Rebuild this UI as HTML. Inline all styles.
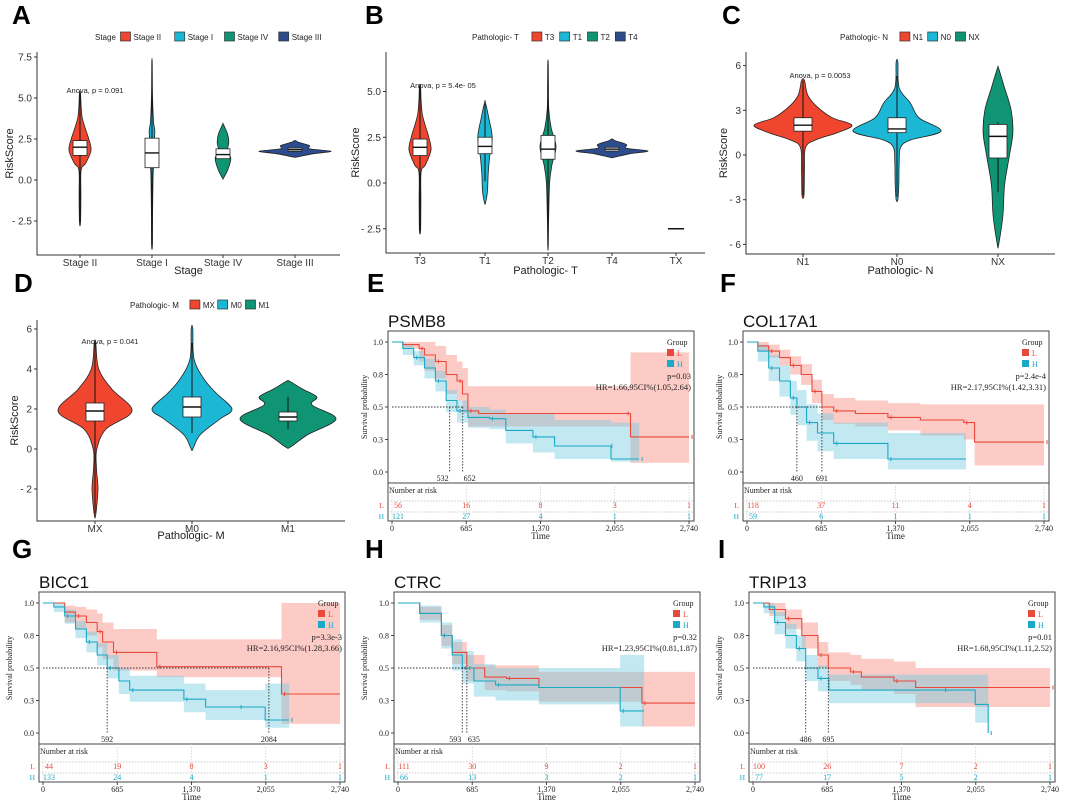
<!DOCTYPE html>
<html><head><meta charset="utf-8"><style>
html,body{margin:0;padding:0;background:#fff;}
svg{display:block;font-family:"Liberation Sans",sans-serif;}
.serif{font-family:"Liberation Serif",serif;}
</style></head>
<body>
<svg id="fig" width="1065" height="807" viewBox="0 0 1065 807" xmlns="http://www.w3.org/2000/svg"></svg>
<script>
// ---------- Violin data ----------
const aCats=["Stage II","Stage I","Stage IV","Stage III"];
const aYs=[[-2.6,-1,0.6,1,1.8,2.5,3.2,3.8,4.5,5.3],[-4,-2,0,1,2,3,3.5,4.5,5.5,7.2],[0.1,0.6,1.3,1.8,2.3,2.8,3.4],[1.4,1.6,1.75,1.9,2.1,2.3,2.4]];
const aWs=[[.05,.08,.1,.5,1,.8,.45,.2,.1,.05],[.05,.08,.12,.2,.25,.35,.2,.1,.05,.03],[.02,.35,.6,.35,.45,.35,.02],[.05,.5,1,.4,.4,.1,.02]];
const aBox=[[1.5,2.0,2.4,-2.6,5.3],[0.75,1.65,2.55,-4,7.2],[1.3,1.55,1.9,1.3,1.9],[1.75,1.85,1.95,1.75,1.95]];
const bCats=["T3","T1","T2","T4","TX"];
const bYs=[[-2.6,-1,0.6,1,1.8,2.5,3.2,3.8,4.5,5.3],[-1.1,-0.5,0.5,1.5,2.5,3.5,4.4],[-3.5,-2,0,1,2,3,4,5.5,6.6],[1.4,1.6,1.75,1.9,2.1,2.3,2.4],[]];
const bWs=[[.05,.08,.1,.5,1,.8,.45,.2,.1,.05],[.05,.3,.4,.6,.9,.5,.05],[.03,.08,.2,.5,1,.4,.1,.05,.02],[.05,.5,1,.4,.4,.1,.02],[]];
const bBox=[[1.5,1.95,2.4,-2.6,5.3],[1.6,2.0,2.5,0.1,4.3],[1.3,1.85,2.6,-3.5,6.6],[1.75,1.85,1.95,1.75,1.95],[-2.5,-2.5,-2.5,-2.5,-2.5]];
const cCats=["N1","N0","NX"];
const cYs=[[-2.7,-1,0.5,1,1.5,2,2.5,3.2,4,5],[-3,-2,-0.5,0.5,1,1.6,2.5,3.5,4.5,6.2],[-6,-4,-2,0,1.5,3,4.5,5.8]];
const cWs=[[.02,.03,.05,.25,.7,1,.6,.3,.1,.03],[.02,.04,.05,.08,.3,1,.5,.3,.05,.02],[.02,.15,.2,.35,.45,.4,.2,.02]];
const cBox=[[1.6,2.0,2.5,-2.7,5],[1.5,1.75,2.5,-2.8,5.3],[-0.2,1.25,2.05,-2.5,2.2]];
const dCats=["MX","M0","M1"];
const dYs=[[-3.3,-2,-1,0,1,1.9,3,4,5.3],[0,0.7,1.5,2,2.8,3.5,4.5,6],[0.1,0.7,1.5,2.2,2.6,3,3.4]];
const dWs=[[.02,.08,.04,.05,.3,1,.45,.1,.02],[.02,.2,.7,1,.6,.3,.05,.02],[.05,.4,1,.5,.6,.3,.02]];
const dBox=[[1.4,1.9,2.3,-3.2,5.3],[1.6,2.1,2.6,0.8,5.3],[1.4,1.6,1.85,1.0,2.6]];
// ---------- KM data ----------
const kmTicks=[0,685,1370,2055,2740];
const kmTickLabels=["0","685","1,370","2,055","2,740"];
const eLt=[0,100,250,300,400,500,600,650,700,800,2150,2200,2740], eLs=[1,.98,.95,.9,.85,.75,.7,.6,.47,.45,.45,.27,.27], eLhi=[1,1,1,1,.97,.9,.85,.8,.66,.66,.66,.92,.92], eLlo=[1,.95,.85,.78,.72,.6,.55,.45,.35,.35,.35,.07,.07];
const eHt=[0,100,200,300,400,500,600,700,900,1050,1300,1500,2000,2020,2280], eHs=[1,.95,.88,.8,.7,.55,.47,.42,.41,.32,.27,.2,.2,.1,.1], eHhi=[1,.98,.93,.87,.78,.63,.55,.5,.48,.45,.45,.4,.4,.38,.38], eHlo=[1,.9,.82,.72,.62,.46,.38,.34,.33,.22,.15,.1,.1,.08,.08];
const eRiskL=[56,16,8,3,1], eRiskH=[121,27,4,1,1], eMed=[532,652];
const fLt=[0,100,200,300,400,500,600,691,800,1000,1300,1600,2000,2100,2740], fLs=[1,.97,.93,.88,.82,.75,.62,.5,.47,.45,.42,.4,.38,.23,.23], fLhi=[1,1,.98,.94,.89,.83,.71,.6,.57,.55,.53,.52,.52,.52,.52], fLlo=[1,.93,.88,.82,.75,.67,.53,.4,.37,.35,.32,.28,.25,.05,.05];
const fHt=[0,100,200,300,400,460,550,650,800,1100,1300,2020], fHs=[1,.93,.8,.7,.57,.5,.38,.3,.22,.22,.1,.1], fHhi=[1,.98,.9,.82,.7,.63,.52,.45,.38,.38,.3,.3], fHlo=[1,.85,.7,.58,.44,.36,.24,.16,.1,.1,.02,.02];
const fRiskL=[118,37,11,4,1], fRiskH=[59,6,1,1,1], fMed=[460,691];
const gLt=[0,200,300,400,500,550,650,900,1050,2084,2200,2740], gLs=[1,.93,.9,.85,.78,.7,.62,.62,.51,.51,.3,.3], gLhi=[1,.98,.97,.95,.92,.85,.8,.8,.72,.72,1,1], gLlo=[1,.85,.8,.75,.66,.57,.48,.48,.43,.43,.07,.07];
const gHt=[0,100,200,300,400,500,592,700,800,1250,1300,1500,1800,2050,2270], gHs=[1,.97,.9,.8,.7,.6,.5,.4,.33,.33,.26,.2,.2,.1,.1], gHhi=[1,1,.95,.86,.78,.69,.6,.5,.44,.44,.38,.33,.33,.38,.38], gHlo=[1,.93,.84,.73,.62,.52,.42,.3,.24,.24,.16,.1,.1,.04,.04];
const gRiskL=[44,19,8,3,1], gRiskH=[133,24,4,1,1], gMed=[592,2084];
const hLt=[0,200,400,500,635,800,1000,1300,2250,2740], hLs=[1,.92,.75,.62,.5,.43,.42,.35,.23,.23], hLhi=[1,.97,.83,.7,.6,.52,.52,.47,.47,.47], hLlo=[1,.87,.67,.53,.4,.33,.32,.24,.05,.05];
const hHt=[0,200,400,500,593,700,900,1300,2050,2270], hHs=[1,.92,.75,.6,.5,.4,.37,.35,.17,.17], hHhi=[1,.98,.85,.72,.63,.53,.5,.5,.6,.6], hHlo=[1,.85,.65,.48,.38,.28,.25,.22,.05,.05];
const hRiskL=[111,30,9,2,1], hRiskH=[66,13,3,2,1], hMed=[593,635];
const iLt=[0,150,300,450,600,695,900,1000,1300,1500,2740], iLs=[1,.95,.88,.75,.6,.5,.47,.43,.4,.35,.35], iLhi=[1,1,.95,.85,.7,.62,.6,.57,.55,.5,.5], iLlo=[1,.9,.8,.65,.5,.4,.37,.33,.3,.2,.2];
const iHt=[0,100,200,300,400,486,600,700,1750,2050,2170], iHs=[1,.97,.85,.75,.65,.5,.42,.33,.33,.22,0], iHhi=[1,1,.93,.84,.75,.6,.52,.45,.45,.45,.45], iHlo=[1,.92,.76,.65,.55,.4,.32,.23,.23,.08,.08];
const iRiskL=[100,26,7,2,1], iRiskH=[77,17,5,2,1], iMed=[486,695];

const NS="http://www.w3.org/2000/svg";
const svg=document.getElementById('fig');
function mk(tag,attrs,parent){const e=document.createElementNS(NS,tag);for(const k in attrs)e.setAttribute(k,attrs[k]);(parent||svg).appendChild(e);return e;}
function txt(s,attrs,parent){const e=mk('text',attrs,parent);e.textContent=s;return e;}
function smoothClosed(p){
  const n=p.length;let d='M'+p[0][0].toFixed(1)+','+p[0][1].toFixed(1);
  for(let i=0;i<n;i++){
    const p0=p[(i-1+n)%n],p1=p[i],p2=p[(i+1)%n],p3=p[(i+2)%n];
    const c1=[p1[0]+(p2[0]-p0[0])/6,p1[1]+(p2[1]-p0[1])/6];
    const c2=[p2[0]-(p3[0]-p1[0])/6,p2[1]-(p3[1]-p1[1])/6];
    d+='C'+c1.map(v=>v.toFixed(1)).join(',')+' '+c2.map(v=>v.toFixed(1)).join(',')+' '+p2[0].toFixed(1)+','+p2[1].toFixed(1);
  }
  return d+'Z';
}

function panelLetter(L,x,y){
  const t=txt(L,{x:x,y:y,'font-size':26,'font-weight':'bold',fill:'#000'});
  
  
}

function violinPanel(cfg){
  const g=mk('g',{});
  
  
  const yS=v=>cfg.zeroY-v*cfg.ppu;
  let lx=cfg.legX;
  const lt=txt(cfg.legTitle,{x:lx,y:cfg.legY+3,'font-size':8,fill:'#222'},g);
  
  
  lx+=cfg.legTitle.length*4.3+4;
  cfg.cats.forEach((c,i)=>{
    if(i>=cfg.legN) return;
    const r=mk('rect',{x:lx,y:cfg.legY-5,width:10,height:9,fill:cfg.colors[i],stroke:'#333','stroke-width':0.7},g);
    
    
    const t=txt(c,{x:lx+13,y:cfg.legY+3,'font-size':8,fill:'#222'},g);
    
    
    lx+=13+c.length*4.4+6;
  });
  const ax=mk('path',{d:`M${cfg.axisX},${cfg.topY} V${cfg.baseY} H${cfg.rightX}`,stroke:'#333','stroke-width':1,fill:'none'},g);
  
  
  cfg.yTicks.forEach((v,i)=>{
    const y=yS(v);
    mk('line',{x1:cfg.axisX-3,x2:cfg.axisX,y1:y,y2:y,stroke:'#333'},g);
    const t=txt(cfg.yTickLabels[i],{x:cfg.axisX-5,y:y+3.5,'font-size':10,'text-anchor':'end',fill:'#333'},g);
    
    
  });
  const yt=txt('RiskScore',{x:0,y:0,'font-size':11,'text-anchor':'middle',fill:'#222',transform:`translate(${cfg.yTitleX},${(cfg.topY+cfg.baseY)/2}) rotate(-90)`},g);
  
  
  const xt=txt(cfg.xTitle,{x:(cfg.axisX+cfg.rightX)/2,y:cfg.xTitleY,'font-size':11,'text-anchor':'middle',fill:'#222'},g);
  
  
  const an=txt(cfg.anova,{x:cfg.anX,y:cfg.anY,'font-size':7.5,'text-anchor':'middle',fill:'#222'},g);
  
  
  cfg.cats.forEach((c,i)=>{
    const cx=cfg.catX[i];
    mk('line',{x1:cx,x2:cx,y1:cfg.baseY,y2:cfg.baseY+3,stroke:'#333'},g);
    const t=txt(c,{x:cx,y:cfg.baseY+11,'font-size':10,'text-anchor':'middle',fill:'#333'},g);
    
    
    const ys=cfg.ys[i], ws=cfg.ws[i], hw=cfg.hw[i];
    if(ys.length){
      const pts=[];
      ys.forEach((v,k)=>pts.push([cx+ws[k]*hw,yS(v)]));
      for(let k=ys.length-1;k>=0;k--) pts.push([cx-ws[k]*hw,yS(ys[k])]);
      const v=mk('path',{d:smoothClosed(pts),fill:cfg.colors[i],stroke:'#222','stroke-width':0.8,'stroke-linejoin':'round'},g);
      
      
    }
    const b=cfg.box[i];
    const bw=cfg.boxHw;
    if(b[0]===b[2]&&b[3]===b[4]&&ys.length===0){
      const l=mk('line',{x1:cx-8,x2:cx+8,y1:yS(b[1]),y2:yS(b[1]),stroke:'#111','stroke-width':1.5},g);
      
      
      return;
    }
    mk('line',{x1:cx,x2:cx,y1:yS(b[3]),y2:yS(b[4]),stroke:'#111','stroke-width':1},g);
    const r=mk('rect',{x:cx-bw,y:yS(b[2]),width:bw*2,height:Math.max(3,yS(b[0])-yS(b[2])),fill:'#fff',stroke:'#222','stroke-width':0.8},g);
    
    
    mk('line',{x1:cx-bw,x2:cx+bw,y1:yS(b[1]),y2:yS(b[1]),stroke:'#111','stroke-width':1.4},g);
  });
}

const red4='#F0462F', cy4='#1DB7D6', gr4='#109574', nv4='#2C4C8D';
violinPanel({id:'a',cats:aCats,ys:aYs,ws:aWs,box:aBox,hw:[11,8,13,36],boxHw:7,colors:[red4,cy4,gr4,nv4],legN:4,
  legTitle:'Stage',legX:95,legY:37,axisX:37,rightX:340,topY:52,baseY:255,zeroY:180,ppu:16.4,
  yTicks:[-2.5,0,2.5,5,7.5],yTickLabels:['- 2.5','0.0','2.5','5.0','7.5'],catX:[80,152,223,295],
  yTitleX:13,xTitle:'Stage',xTitleY:274,anova:'Anova, p = 0.091',anX:95,anY:93});
violinPanel({id:'b',cats:bCats,ys:bYs,ws:bWs,box:bBox,hw:[11,8,8,36,0],boxHw:7,colors:[red4,cy4,gr4,nv4,'#999'],legN:4,
  legTitle:'Pathologic- T',legX:472,legY:37,axisX:386,rightX:705,topY:52,baseY:253,zeroY:183,ppu:18.3,
  yTicks:[-2.5,0,2.5,5],yTickLabels:['- 2.5','0.0','2.5','5.0'],catX:[420,485,548,612,676],
  yTitleX:359,xTitle:'Pathologic- T',xTitleY:274,anova:'Anova, p = 5.4e- 05',anX:443,anY:88});
violinPanel({id:'c',cats:cCats,ys:cYs,ws:cWs,box:cBox,hw:[49,44,33],boxHw:9,colors:[red4,cy4,gr4],legN:3,
  legTitle:'Pathologic- N',legX:840,legY:37,axisX:746,rightX:1055,topY:52,baseY:254,zeroY:155,ppu:14.9,
  yTicks:[-6,-3,0,3,6],yTickLabels:['- 6','- 3','0','3','6'],catX:[803,897,998],
  yTitleX:727,xTitle:'Pathologic- N',xTitleY:274,anova:'Anova, p = 0.0053',anX:820,anY:78});
violinPanel({id:'d',cats:dCats,ys:dYs,ws:dWs,box:dBox,hw:[37,40,48],boxHw:9,colors:[red4,cy4,gr4],legN:3,
  legTitle:'Pathologic- M',legX:130,legY:305,axisX:37,rightX:345,topY:320,baseY:521,zeroY:449,ppu:20,
  yTicks:[-2,0,2,4,6],yTickLabels:['- 2','0','2','4','6'],catX:[95,192,288],
  yTitleX:18,xTitle:'Pathologic- M',xTitleY:539,anova:'Anova, p = 0.041',anX:110,anY:344});
panelLetter('A',12,24);panelLetter('B',365,24);panelLetter('C',722,24);panelLetter('D',14,292);
panelLetter('E',367,292);panelLetter('F',720,292);panelLetter('G',12,558);panelLetter('H',365,558);panelLetter('I',718,558);

function kmPanel(cfg){
  const g=mk('g',{});
  
  
  const ox=cfg.ox, oy=cfg.oy, x0=ox+cfg.x0, x1=ox+cfg.x1;
  const xS=t=>x0+t/2740*(x1-x0);
  const yS=s=>oy+202-s*130;
  const bl=x0-4, br=x1+5, bt=oy+61, bb=oy+213, rb=oy+251;
  const tt=txt(cfg.title,{x:bl,y:oy+57,'font-size':17,fill:'#111'},g);
  
  
  function stepPts(ts,ss){const p=[];ts.forEach((t,i)=>{if(i)p.push([xS(t),yS(ss[i-1])]);p.push([xS(t),yS(ss[i])]);});return p;}
  function band(ts,hi,lo,fill,name){
    const up=stepPts(ts,hi), dn=stepPts(ts,lo).reverse();
    const d='M'+up.concat(dn).map(p=>p[0].toFixed(1)+','+p[1].toFixed(1)).join('L')+'Z';
    const b=mk('path',{d:d,fill:fill,stroke:'none'},g);
    
    
  }
  band(cfg.Lt,cfg.Lhi,cfg.Llo,'rgba(248,140,128,0.45)','ci-band-low-risk');
  band(cfg.Ht,cfg.Hhi,cfg.Hlo,'rgba(110,200,225,0.42)','ci-band-high-risk');
  function curve(ts,ss,col,name){
    const p=stepPts(ts,ss);
    const c=mk('path',{d:'M'+p.map(q=>q[0].toFixed(1)+','+q[1].toFixed(1)).join('L'),fill:'none',stroke:col,'stroke-width':1.1},g);
    
    
    ts.forEach((t,i)=>{if(i>0&&i%2===0){const m=mk('line',{x1:xS(t)+3,x2:xS(t)+3,y1:yS(ss[i])-2,y2:yS(ss[i])+2,stroke:col,'stroke-width':1},g);}});
  }
  curve(cfg.Lt,cfg.Ls,'#E8493A','survival-curve-low-risk');
  curve(cfg.Ht,cfg.Hs,'#1AA9C6','survival-curve-high-risk');
  const mx=Math.max(...cfg.med);
  mk('line',{x1:x0,x2:xS(mx),y1:yS(0.5),y2:yS(0.5),stroke:'#333','stroke-dasharray':'1.5,1.5','stroke-width':0.9},g);
  cfg.med.forEach((m,i)=>{
    mk('line',{x1:xS(m),x2:xS(m),y1:yS(0.5),y2:yS(0),stroke:'#333','stroke-dasharray':'1.5,1.5','stroke-width':0.9},g);
    const off=cfg.med.length>1&&Math.abs(cfg.med[1]-cfg.med[0])<200?(i?7:-7):0;
    const t=txt(String(m),{x:xS(m)+off,y:yS(0)+9,'font-size':8,'text-anchor':'middle',fill:'#222',class:'serif'},g);
    
    
  });
  const bx=mk('rect',{x:bl,y:bt,width:br-bl,height:bb-bt,fill:'none',stroke:'#444','stroke-width':1},g);
  
  
  mk('rect',{x:bl,y:bb,width:br-bl,height:rb-bb,fill:'none',stroke:'#444','stroke-width':1},g);
  [0,0.5,1,0.25,0.75].forEach(v=>{
    const lbl=v===0.25?'0.3':v===0.75?'0.8':v.toFixed(1);
    mk('line',{x1:bl-3,x2:bl,y1:yS(v),y2:yS(v),stroke:'#444'},g);
    const t=txt(lbl,{x:bl-5,y:yS(v)+3,'font-size':8,'text-anchor':'end',fill:'#222',class:'serif'},g);
    
    
  });
  const yt=txt('Survival probability',{x:0,y:0,'font-size':8,'text-anchor':'middle',fill:'#222',class:'serif',transform:`translate(${ox+12},${yS(0.5)}) rotate(-90)`},g);
  
  
  const lg=txt('Group',{x:x1-22,y:oy+75,'font-size':8,fill:'#222',class:'serif'},g);
  
  
  [['L','#E8493A'],['H','#1AA9C6']].forEach((p,i)=>{
    const s=mk('rect',{x:x1-22,y:oy+79+i*11,width:7,height:7,fill:p[1]},g);
    
    
    const t=txt(p[0],{x:x1-12,y:oy+86+i*11,'font-size':8,fill:p[1],class:'serif'},g);
    
    
  });
  const pt=txt(cfg.p,{x:x1+2,y:oy+109,'font-size':8.5,'text-anchor':'end',fill:'#222',class:'serif'},g);
  
  
  const hr=txt(cfg.hr,{x:x1+2,y:oy+120,'font-size':8.5,'text-anchor':'end',fill:'#222',class:'serif'},g);
  
  
  const nr=txt('Number at risk',{x:bl+1,y:oy+223,'font-size':8,fill:'#222',class:'serif'},g);
  
  
  [oy+231,oy+242].forEach(y=>mk('line',{x1:bl,x2:br,y1:y,y2:y,stroke:'#bbb','stroke-dasharray':'1.5,1.5','stroke-width':0.7},g));
  const rl=txt('L',{x:bl-4,y:oy+238,'font-size':7.5,'text-anchor':'end',fill:'#E8493A',class:'serif'},g);
  
  
  const rh=txt('H',{x:bl-4,y:oy+249,'font-size':7.5,'text-anchor':'end',fill:'#1AA9C6',class:'serif'},g);
  
  
  kmTicks.forEach((t,i)=>{
    const x=xS(t);
    mk('line',{x1:x,x2:x,y1:bb,y2:rb,stroke:'#ccc','stroke-dasharray':'1.5,1.5','stroke-width':0.7},g);
    mk('line',{x1:x,x2:x,y1:rb,y2:rb+3,stroke:'#444'},g);
    const a=txt(String(cfg.riskL[i]),{x:x+(i===0?6:0),y:oy+238,'font-size':8,'text-anchor':'middle',fill:'#E8493A',class:'serif'},g);
    
    
    const b=txt(String(cfg.riskH[i]),{x:x+(i===0?6:0),y:oy+249,'font-size':8,'text-anchor':'middle',fill:'#1AA9C6',class:'serif'},g);
    
    
    const l=txt(kmTickLabels[i],{x:x,y:rb+10,'font-size':8,'text-anchor':'middle',fill:'#222',class:'serif'},g);
    
    
  });
  const xt=txt('Time',{x:(x0+x1)/2,y:rb+18,'font-size':9,'text-anchor':'middle',fill:'#222',class:'serif'},g);
  
  
}
kmPanel({id:'e',title:'PSMB8',ox:355,oy:270,x0:37,x1:334,Lt:eLt,Ls:eLs,Lhi:eLhi,Llo:eLlo,Ht:eHt,Hs:eHs,Hhi:eHhi,Hlo:eHlo,riskL:eRiskL,riskH:eRiskH,med:eMed,p:'p=0.03',hr:'HR=1.66,95CI%(1.05,2.64)'});
kmPanel({id:'f',title:'COL17A1',ox:710,oy:270,x0:37,x1:334,Lt:fLt,Ls:fLs,Lhi:fLhi,Llo:fLlo,Ht:fHt,Hs:fHs,Hhi:fHhi,Hlo:fHlo,riskL:fRiskL,riskH:fRiskH,med:fMed,p:'p=2.4e-4',hr:'HR=2.17,95CI%(1.42,3.31)'});
kmPanel({id:'g',title:'BICC1',ox:0,oy:531,x0:43,x1:340,Lt:gLt,Ls:gLs,Lhi:gLhi,Llo:gLlo,Ht:gHt,Hs:gHs,Hhi:gHhi,Hlo:gHlo,riskL:gRiskL,riskH:gRiskH,med:gMed,p:'p=3.3e-3',hr:'HR=2.16,95CI%(1.28,3.66)'});
kmPanel({id:'h',title:'CTRC',ox:355,oy:531,x0:43,x1:340,Lt:hLt,Ls:hLs,Lhi:hLhi,Llo:hLlo,Ht:hHt,Hs:hHs,Hhi:hHhi,Hlo:hHlo,riskL:hRiskL,riskH:hRiskH,med:hMed,p:'p=0.32',hr:'HR=1.23,95CI%(0.81,1.87)'});
kmPanel({id:'i',title:'TRIP13',ox:710,oy:531,x0:43,x1:340,Lt:iLt,Ls:iLs,Lhi:iLhi,Llo:iLlo,Ht:iHt,Hs:iHs,Hhi:iHhi,Hlo:iHlo,riskL:iRiskL,riskH:iRiskH,med:iMed,p:'p=0.01',hr:'HR=1.68,95CI%(1.11,2.52)'});
</script>
</body></html>
